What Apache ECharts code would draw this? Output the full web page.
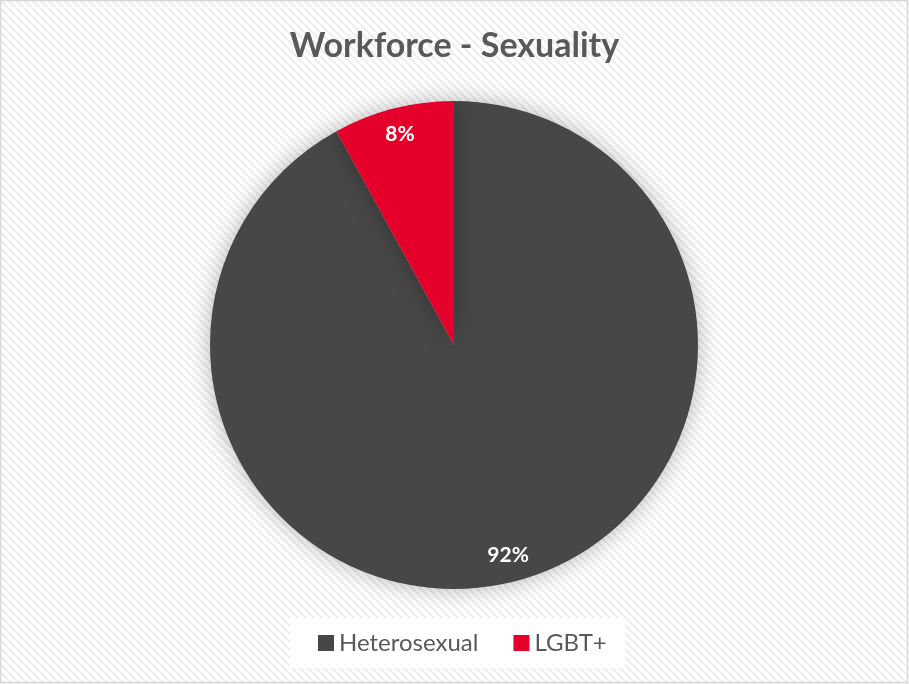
<!DOCTYPE html>
<html>
<head>
<meta charset="utf-8">
<script src="https://cdn.jsdelivr.net/npm/echarts@6/dist/echarts.min.js"></script>
<style>
  html, body { margin: 0; padding: 0; background: #ffffff; }
  #chart { width: 909px; height: 684px; }
</style>
</head>
<body>
<div id="chart"></div>
<script>
// Workforce breakdown by sexuality (percent of headcount)
const categories = ['Heterosexual', 'LGBT+'];
const shares = [92, 8];
const sliceColors = ['#474747', '#E4002B'];
const chartTitle = 'Workforce - Sexuality';

// Light diagonal hatching used as the chart background
function hatchPattern() {
  const c = document.createElement('canvas');
  c.width = 8; c.height = 8;
  const g = c.getContext('2d');
  g.fillStyle = '#ffffff';
  g.fillRect(0, 0, 8, 8);
  g.strokeStyle = '#efefef';
  g.lineWidth = 2.5;
  g.beginPath();
  for (let k = -8; k <= 16; k += 8) {
    g.moveTo(k, 0);
    g.lineTo(k + 8, 8);
  }
  g.stroke();
  return c;
}

const pieData = categories.map((name, i) => ({
  name: name,
  value: shares[i],
  itemStyle: { color: sliceColors[i] }
}));

const chart = echarts.init(document.getElementById('chart'), null, { renderer: 'canvas' });

chart.setOption({
  backgroundColor: { image: hatchPattern(), repeat: 'repeat' },
  animation: false,
  title: {
    text: chartTitle,
    left: 'center',
    top: 24,
    textStyle: {
      fontFamily: 'Lato',
      fontWeight: 'bold',
      fontSize: 34,
      color: '#595959'
    }
  },
  legend: {
    data: categories,
    bottom: 16,
    left: 290,
    orient: 'horizontal',
    backgroundColor: '#ffffff',
    padding: [13, 18, 13, 28],
    itemWidth: 16,
    itemHeight: 16,
    itemGap: 35,
    icon: 'rect',
    textStyle: {
      fontFamily: 'Lato',
      fontSize: 24,
      color: '#595959'
    }
  },
  graphic: [{
    type: 'rect',
    silent: true,
    shape: { x: 0.5, y: 0.5, width: 907, height: 682 },
    style: { fill: 'none', stroke: '#d9d9d9', lineWidth: 1.5 }
  }],
  series: [
    {
      name: 'Workforce',
      type: 'pie',
      center: [454, 345],
      radius: [0, 244],
      startAngle: 90,
      clockwise: true,
      label: { show: false },
      labelLine: { show: false },
      itemStyle: {
        borderWidth: 0,
        shadowBlur: 22,
        shadowColor: 'rgba(0,0,0,0.28)'
      },
      data: pieData
    },
    {
      // transparent ring that carries the percentage labels near the rim
      name: 'Labels',
      type: 'pie',
      center: [454, 345],
      radius: [185, 244],
      startAngle: 90,
      clockwise: true,
      silent: true,
      legendHoverLink: false,
      percentPrecision: 0,
      itemStyle: { color: 'rgba(0,0,0,0)', borderWidth: 0 },
      label: {
        show: true,
        position: 'inside',
        formatter: '{d}%',
        fontFamily: 'Lato',
        fontWeight: 'bold',
        fontSize: 21,
        color: '#ffffff'
      },
      labelLine: { show: false },
      data: categories.map((name, i) => ({ name: name, value: shares[i] }))
    }
  ]
});
</script>
</body>
</html>
